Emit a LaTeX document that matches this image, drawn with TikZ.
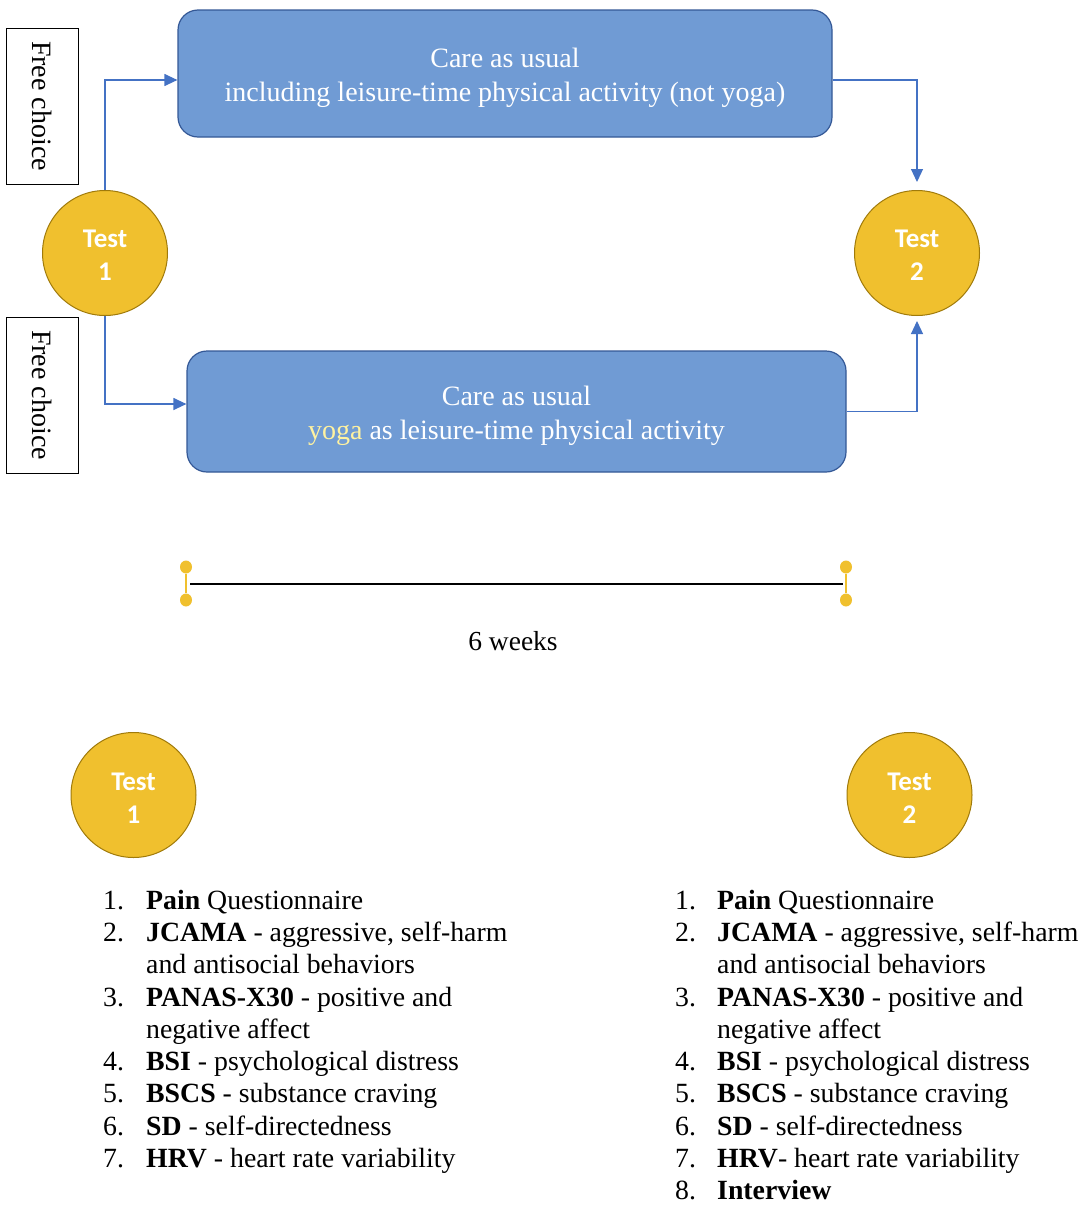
\documentclass[tikz,border=0pt]{standalone}
\usepackage{fontspec}
\setmainfont{Liberation Serif}
\newfontfamily\calfont{Carlito}
\usetikzlibrary{arrows.meta,calc,shapes.geometric}
\definecolor{boxfill}{RGB}{112,155,212}
\definecolor{boxdraw}{RGB}{52,88,150}
\definecolor{gold}{RGB}{240,192,46}
\definecolor{golddraw}{RGB}{160,122,10}
\definecolor{conncol}{RGB}{68,114,196}
\definecolor{yogacol}{RGB}{255,242,160}
\begin{document}
\begin{tikzpicture}[x=1pt,y=-1pt,
  every node/.style={inner sep=0pt},
  carebox/.style={draw=boxdraw,fill=boxfill,line width=1.2pt,rounded corners=20pt},
  caretext/.style={text=white,font=\fontsize{28}{33.5}\selectfont,align=center},
  testcirc/.style={circle,draw=golddraw,fill=gold,line width=1pt,minimum size=125pt},
  testtext/.style={text=white,font=\calfont\bfseries\fontsize{27}{33}\selectfont,align=center},
  choicebox/.style={draw=black,line width=1pt,fill=white,rotate=-90,minimum width=156pt,minimum height=72pt,
    font=\fontsize{28}{33}\selectfont},
  connector/.style={draw=conncol,line width=1.2pt,-{Triangle[length=13pt,width=12pt]}},
  golddot/.style={ellipse,fill=gold,minimum width=12pt,minimum height=13pt},
  goldbar/.style={draw=gold,line width=2.5pt},
  timeline/.style={draw=black,line width=2.5pt},
  listtxt/.style={anchor=base west,font=\fontsize{27.8}{32.5}\selectfont},
]
\useasboundingbox (0,0) rectangle (1084,1210);

% top part
\node[carebox,minimum width=654pt,minimum height=127pt] (box1) at (505,73.5) {};
\node[caretext] (box1t) at (505,78)
  {Care as usual\\including leisure-time physical activity (not yoga)};
\node[carebox,minimum width=659pt,minimum height=121pt] (box2) at (516.5,411.5) {};
\node[caretext] (box2t) at (516.5,416)
  {Care as usual\\\textcolor{yogacol}{yoga} as leisure-time physical activity};
\node[choicebox] (fc1) at (42,106) {Free choice};
\node[choicebox] (fc2) at (42,395) {Free choice};
\node[testcirc] (t1) at (105,253) {};
\node[testtext] (t1t) at (105,255) {Test\\1};
\node[testcirc] (t2) at (917,253) {};
\node[testtext] (t2t) at (917,255) {Test\\2};

\draw[connector] (t1.north) |- ([yshift=-6.5pt]box1.west);
\draw[connector] (t1.south) |- ([yshift=7.5pt]box2.west);
\draw[connector,shorten >=8pt] ([yshift=-6.5pt]box1.east) -| (t2.north);
\draw[connector,shorten >=5pt] (box2.east) -| (t2.south);

% timeline
\node[golddot] (dA1) at (186,567) {};
\node[golddot] (dA2) at (186,600) {};
\node[golddot] (dB1) at (846,567) {};
\node[golddot] (dB2) at (846,600) {};
\draw[goldbar] (dA1) -- (dA2);
\draw[goldbar] (dB1) -- (dB2);
\coordinate (tlL) at (190,584);
\coordinate (tlR) at (843,584);
\draw[timeline] (tlL) -- (tlR);
\node[font=\fontsize{27.5}{33}\selectfont] (weeks) at (513,641) {6 weeks};

% bottom circles
\node[testcirc] (b1) at (133.5,795) {};
\node[testtext] (b1t) at (133.5,798) {Test\\1};
\node[testcirc] (b2) at (909.5,795) {};
\node[testtext] (b2t) at (909.5,798) {Test\\2};

% left list
\node[listtxt] (ln1) at (103,909) {1.};
\node[listtxt] (lt1) at (146,909) {\textbf{Pain} Questionnaire};
\node[listtxt] (ln2) at (103,941) {2.};
\node[listtxt] (lt2) at (146,941) {\textbf{JCAMA} - aggressive, self-harm};
\node[listtxt] (lt2b) at (146,973) {and antisocial behaviors};
\node[listtxt] (ln3) at (103,1006) {3.};
\node[listtxt] (lt3) at (146,1006) {\textbf{PANAS-X30} - positive and};
\node[listtxt] (lt3b) at (146,1038) {negative affect};
\node[listtxt] (ln4) at (103,1070) {4.};
\node[listtxt] (lt4) at (146,1070) {\textbf{BSI} - psychological distress};
\node[listtxt] (ln5) at (103,1102) {5.};
\node[listtxt] (lt5) at (146,1102) {\textbf{BSCS} - substance craving};
\node[listtxt] (ln6) at (103,1135) {6.};
\node[listtxt] (lt6) at (146,1135) {\textbf{SD} - self-directedness};
\node[listtxt] (ln7) at (103,1167) {7.};
\node[listtxt] (lt7) at (146,1167) {\textbf{HRV} - heart rate variability};

% right list
\node[listtxt] (rn1) at (675,909) {1.};
\node[listtxt] (rt1) at (717,909) {\textbf{Pain} Questionnaire};
\node[listtxt] (rn2) at (675,941) {2.};
\node[listtxt] (rt2) at (717,941) {\textbf{JCAMA} - aggressive, self-harm};
\node[listtxt] (rt2b) at (717,973) {and antisocial behaviors};
\node[listtxt] (rn3) at (675,1006) {3.};
\node[listtxt] (rt3) at (717,1006) {\textbf{PANAS-X30} - positive and};
\node[listtxt] (rt3b) at (717,1038) {negative affect};
\node[listtxt] (rn4) at (675,1070) {4.};
\node[listtxt] (rt4) at (717,1070) {\textbf{BSI} - psychological distress};
\node[listtxt] (rn5) at (675,1102) {5.};
\node[listtxt] (rt5) at (717,1102) {\textbf{BSCS} - substance craving};
\node[listtxt] (rn6) at (675,1135) {6.};
\node[listtxt] (rt6) at (717,1135) {\textbf{SD} - self-directedness};
\node[listtxt] (rn7) at (675,1167) {7.};
\node[listtxt] (rt7) at (717,1167) {\textbf{HRV}- heart rate variability};
\node[listtxt] (rn8) at (675,1199) {8.};
\node[listtxt] (rt8) at (717,1199) {\textbf{Interview}};
\end{tikzpicture}
\end{document}
